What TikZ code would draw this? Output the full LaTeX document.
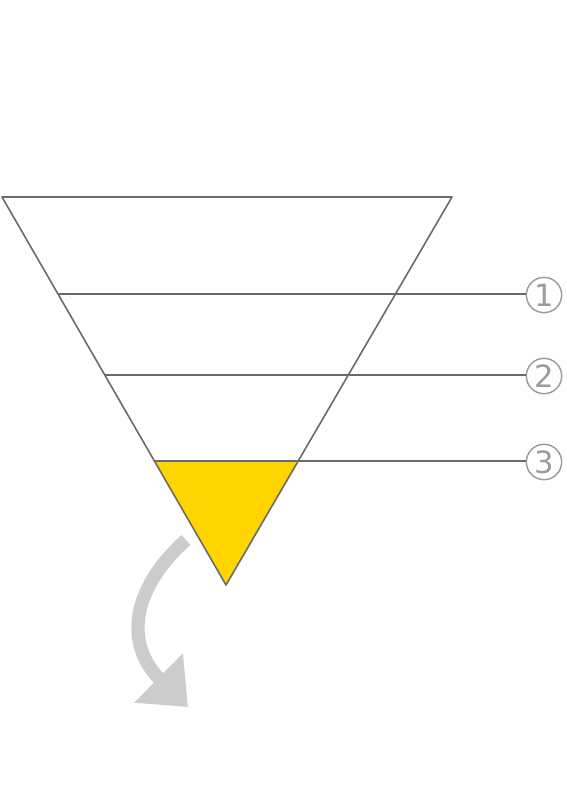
\documentclass[tikz,border=0pt]{standalone}
\usepackage{fontspec}
\newfontfamily\numfont{DejaVu Sans}
\usetikzlibrary{calc,arrows.meta}
\definecolor{edgegray}{HTML}{6A6A6A}
\definecolor{markgray}{HTML}{9C9C9C}
\definecolor{arrowgray}{HTML}{CCCCCC}
\definecolor{funnelyellow}{HTML}{FFD500}
\tikzset{funnel/.style={draw=edgegray,line width=1.2pt,line join=round}}
\tikzset{level/.style={draw=edgegray,line width=1.2pt}}
\tikzset{stagemark/.style={draw=markgray,circle,line width=1.1pt,minimum size=26.5pt,inner sep=0pt,text=markgray,font=\numfont\fontsize{23}{23}\selectfont}}

\begin{document}
\begin{tikzpicture}[x=0.75pt,y=-0.75pt]
	\useasboundingbox (0,0) rectangle (567,797);
		\coordinate (tl) at (2,197);
		\coordinate (tr) at (452,197);
		\coordinate (bt) at (226,585);
		\coordinate (l1) at ($(tl)!0.25!(bt)$);
		\coordinate (l2) at ($(tl)!0.459!(bt)$);
		\coordinate (l3) at ($(tl)!0.68!(bt)$);
		\coordinate (r3) at ($(tr)!0.68!(bt)$);

		\node[stagemark] (n1) at (544,295) {1};
		\node[stagemark] (n2) at (544,376) {2};
		\node[stagemark] (n3) at (544,462) {3};

		% bottom part filled
		\fill[funnelyellow] (l3) -- (r3) -- (bt) -- cycle;
		\draw[funnel] (tl) -- (tr) -- (bt) -- cycle;

		\draw[level] (l1) -- (l1 -| n1.west);
		\draw[level] (l2) -- (l2 -| n2.west);
		\draw[level] (l3) -- (l3 -| n3.west);

		\coordinate (a0) at (186,540);
		\coordinate (a1) at (188,707);
		\draw[arrowgray,line width=10pt,-{Triangle[length=31pt,width=50pt]}]
			(a0) .. controls (130,590) and (125,645) .. (a1);
	\end{tikzpicture}
\end{document}
